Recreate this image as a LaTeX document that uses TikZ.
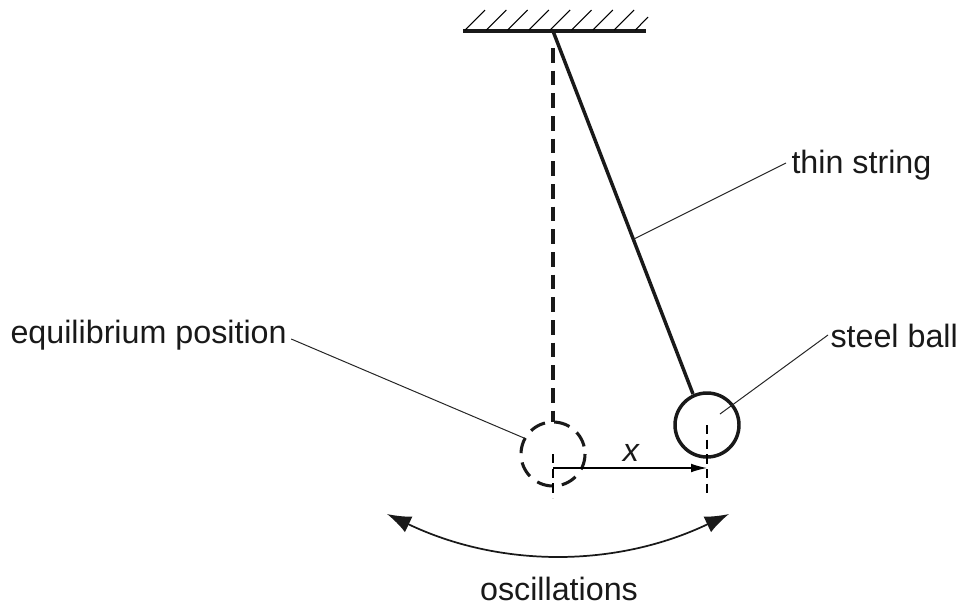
\documentclass[tikz,border=0pt]{standalone}
\usepackage{fontspec}
\setmainfont{Liberation Sans}
\usetikzlibrary{arrows.meta}
\tikzset{every picture/.style={line width=0.75pt}}
\tikzset{
  label text/.style={inner sep=0pt,font=\fontsize{24.2}{29}\selectfont,text=black!90},
  leader/.style={line width=0.75pt,draw=black!85},
  centre line/.style={line width=0.9pt,dash pattern={on 7pt off 4pt}},
  heavy/.style={line width=2.3pt,draw=black!90},
}

\begin{document}
\begin{tikzpicture}[x=0.75pt,y=0.75pt,yscale=-1,xscale=1]
\useasboundingbox (0,0) rectangle (961,608);

%Ceiling
\draw [line width=2.4pt,draw=black!90] (463,31) -- (646,31);
\foreach \hx in {465,486.3,507.6,528.9,550.2,571.5,592.8,614.1} {
  \draw [line width=0.8pt] (\hx,30) -- (\hx+20,10);
}
\draw [line width=0.8pt] (635.4,30) -- (648,17);

%Named points
\coordinate (top) at (553,31);
\coordinate (rest) at (553,454);
\coordinate (ball) at (707,425);
\coordinate (restfoot) at (553,498);
\coordinate (ballfoot) at (707,498);
\coordinate (restmark) at (553,468);
\coordinate (ballmark) at (707,468);
\coordinate (swingL) at (387,514);
\coordinate (swingR) at (729,514);

%Equilibrium position
\draw [heavy,dash pattern={on 11pt off 6pt}] (553,48) -- (553,422);
\draw [heavy,dash pattern={on 12pt off 7pt}] (rest) circle [radius=32];
\draw [centre line] (rest) -- (restfoot);

%String and ball
\draw [line width=2.6pt,draw=black!90] (top) -- (693,394);
\node [circle,draw=black!90,line width=2.6pt,minimum size=48pt,inner sep=0pt] (steel) at (ball) {};
\draw [centre line] (ball) -- (ballfoot);

%Displacement
\draw [line width=0.9pt,-{Latex[length=12pt,width=6.5pt]}] (restmark) -- (ballmark);
\node [label text,font=\fontsize{24.2}{29}\selectfont\itshape] (xlabel) at (631,453) {x};

%Swing
\draw [line width=1.3pt,draw=black!90,{Latex[length=18pt,width=13pt]}-{Latex[length=18pt,width=13pt]}] (swingL) .. controls (500,568) and (616,568) .. (swingR);

% Text Node
\node [label text,anchor=west] (eqlabel) at (10,335) {equilibrium position};
\node [label text,anchor=west] (stringlabel) at (791,165) {thin string};
\node [label text,anchor=west] (steellabel) at (830,336) {steel ball};
\node [label text] (osclabel) at (559,589) {oscillations};

%Leaders
\coordinate (eqend) at (524,438);
\coordinate (stringend) at (634,239);
\coordinate (steelend) at (720,414);
\draw [leader] (eqlabel.east) ++(4,4) -- (eqend);
\draw [leader] (stringlabel.west) ++(-5,-2) -- (stringend);
\draw [leader] (steellabel.west) ++(-2,-1) -- (steelend);

\end{tikzpicture}
\end{document}
